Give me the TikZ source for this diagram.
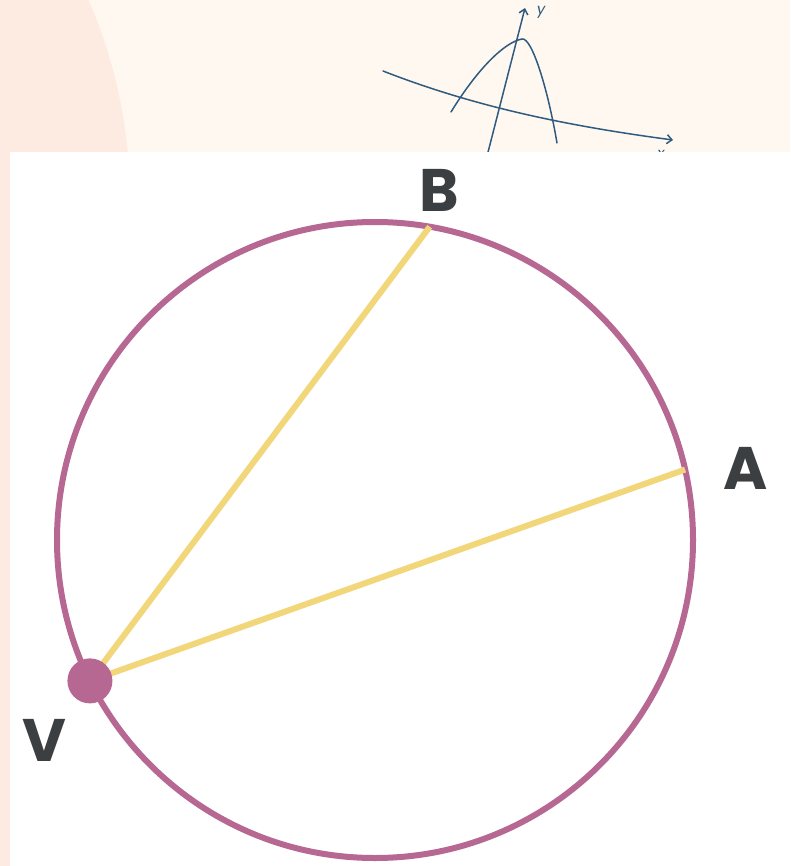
\documentclass[tikz,border=0pt]{standalone}
\usepackage{fontspec}
\newfontfamily\handfont{Poppins}
\usetikzlibrary{arrows.meta}
\definecolor{cream}{HTML}{FFF8F1}
\definecolor{peach}{HTML}{FDEAE0}
\definecolor{ink}{HTML}{2F5B7F}
\definecolor{ring}{HTML}{B66893}
\definecolor{chord}{HTML}{F1D67A}
\definecolor{lab}{HTML}{3C3F42}
\begin{document}
\begin{tikzpicture}[x=1pt,y=-1pt,
  graphline/.style={draw=ink, line width=1.5pt, line cap=round},
  ringline/.style={draw=ring, line width=6pt},
  chordline/.style={draw=chord, line width=6pt},
  letter/.style={text=lab, font=\handfont\bfseries\fontsize{60}{60}\selectfont, inner sep=0pt},
  small/.style={text=ink, font=\handfont\itshape\fontsize{15}{15}\selectfont, inner sep=0pt}]
\useasboundingbox (0,0) rectangle (790,866);
\fill[cream] (0,0) rectangle (790,866);
\begin{scope}
  \clip (0,0) rectangle (790,866);
  \fill[peach] (-370,200) circle (500);
\end{scope}
\fill[peach] (0,0) rectangle (12,866);
% sketch of a graph
\draw[graphline, -{Straight Barb[length=5pt,width=9pt]}] (383,71) .. controls (470,105) and (560,125) .. (673,140);
\draw[graphline, -{Straight Barb[length=5pt,width=9pt]}] (486,160) -- (525,8);
\draw[graphline] (451,112) .. controls (478,68) and (505,42) .. (522,39) .. controls (532,37) and (548,90) .. (557,143);
\node[small] (ylab) at (541,12) {y};
\node[small, anchor=base] (xlab) at (661,159) {x};
% white panel
\fill[white] (10,152) rectangle (790,866);
% circle
\coordinate (O) at (375,540);
\draw[ringline] (O) circle (318);
\path (O) ++(153.7:318) coordinate (V);
\path (O) ++(-80.1:318) coordinate (B);
\path (O) ++(-12.8:318) coordinate (A);
\draw[chordline] (V) -- (B);
\draw[chordline] (V) -- (A);
\node[circle, fill=ring, minimum size=45pt, inner sep=0pt] (Vdot) at (V) {};
\node[letter] (labB) at (439,190) {B};
\node[letter] (labA) at (746,468) {A};
\node[letter] (labV) at (44,740) {V};
\end{tikzpicture}
\end{document}
